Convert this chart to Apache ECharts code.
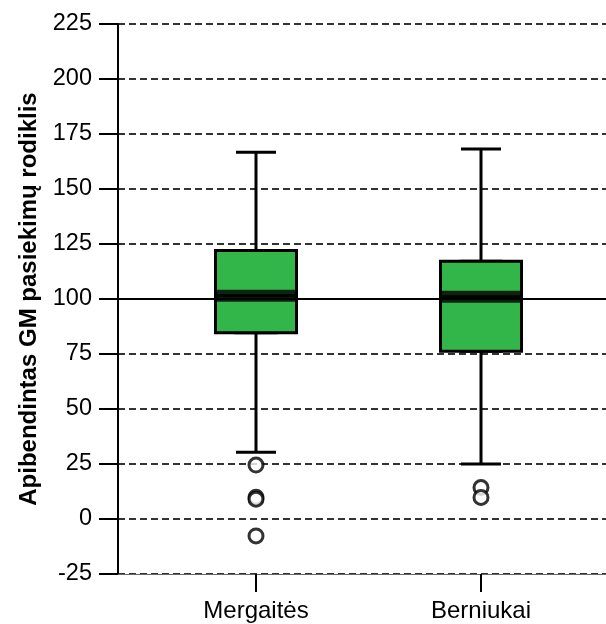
<!DOCTYPE html>
<html>
<head>
<meta charset="utf-8">
<style>html,body{margin:0;padding:0;background:#fff}#c{width:606px;height:624px}</style>
<script src="https://cdn.jsdelivr.net/npm/echarts@6/dist/echarts.min.js"></script>
</head>
<body>
<div id="c"></div>
<script>
var categories = ['Mergaitės', 'Berniukai'];
var positions = [1, 2];
var whiskerLow = [30.3, 25];
var q1 = [84.7, 76.3];
var median = [101.5, 101];
var q3 = [122, 117.2];
var whiskerHigh = [166.7, 168.2];
var outliersMergaites = [24.5, 9.9, 9, -7.7];
var outliersBerniukai = [14.3, 9.8];
var yTicks = [-25, 0, 25, 50, 75, 100, 125, 150, 175, 200, 225];
var referenceLine = 100;

var whiskerData = positions.map(function (p, i) { return [p, whiskerLow[i], q1[i], median[i], q3[i], whiskerHigh[i]]; });
var boxData = positions.map(function (p, i) { return [p, q1[i], q1[i], median[i], q3[i], q3[i]]; });
var medianData = positions.map(function (p, i) { return [p, median[i]]; });
var outlierData = outliersMergaites.map(function (v) { return [positions[0], v]; })
  .concat(outliersBerniukai.map(function (v) { return [positions[1], v]; }));

var FONT = '"Liberation Sans", Arial, sans-serif';
var xMin = 1 - 138 / 225;
var xMax = xMin + 488 / 225;

var chart = echarts.init(document.getElementById('c'), null, { renderer: 'canvas' });
chart.setOption({
  animation: false,
  backgroundColor: '#fff',
  grid: { left: 118, right: 0, top: 24, bottom: 50, containLabel: false },
  xAxis: [{
    type: 'value', min: xMin, max: xMax,
    axisLine: { show: true, onZero: false, lineStyle: { color: '#666', width: 1 } },
    axisTick: { show: true, customValues: positions, length: 18, lineStyle: { color: '#000', width: 2 } },
    axisLabel: { show: true, customValues: positions, margin: 25, color: '#000', fontSize: 24, fontFamily: FONT,
      formatter: function (v) { var i = positions.indexOf(Math.round(v)); return i >= 0 ? categories[i] : ''; } },
    splitLine: { show: false }
  }, {
    type: 'value', min: xMin, max: xMax, show: false
  }],
  yAxis: {
    type: 'value', min: -25, max: 225, interval: 25,
    name: 'Apibendintas GM pasiekimų rodiklis', nameLocation: 'middle', nameGap: 77,
    nameTextStyle: { fontSize: 24, fontWeight: 'bold', color: '#000', fontFamily: FONT },
    axisLine: { show: true, lineStyle: { color: '#000', width: 2 } },
    axisTick: { show: true, length: 19, lineStyle: { color: '#000', width: 2 } },
    axisLabel: { margin: 26, color: '#000', fontSize: 23.5, fontFamily: FONT,
      formatter: function (v) { return yTicks.indexOf(v) >= 0 ? String(v) : ''; } },
    splitLine: { show: true, lineStyle: { color: '#333', width: 2, type: [7, 4] } }
  },
  series: [{
    type: 'boxplot', xAxisIndex: 1, boxWidth: [40, 40],
    data: whiskerData,
    itemStyle: { color: 'transparent', borderColor: '#000', borderWidth: 3 },
    silent: true,
    markLine: {
      silent: true, symbol: ['none', 'none'], label: { show: false },
      lineStyle: { color: '#000', width: 2, type: 'solid' },
      data: [{ yAxis: referenceLine }]
    }
  }, {
    type: 'boxplot', xAxisIndex: 0, boxWidth: [81, 81],
    data: boxData,
    itemStyle: { color: '#32b64a', borderColor: '#000', borderWidth: 3 },
    silent: true, z: 3
  }, {
    type: 'scatter', xAxisIndex: 0, symbol: 'rect', symbolSize: [81, 12],
    data: medianData, itemStyle: { color: '#000' }, silent: true, z: 6
  }, {
    type: 'scatter', xAxisIndex: 0, symbol: 'circle', symbolSize: 14,
    data: outlierData, itemStyle: { color: '#fff', borderColor: '#000', borderWidth: 3 }, silent: true, z: 6
  }]
});
</script>
</body>
</html>
